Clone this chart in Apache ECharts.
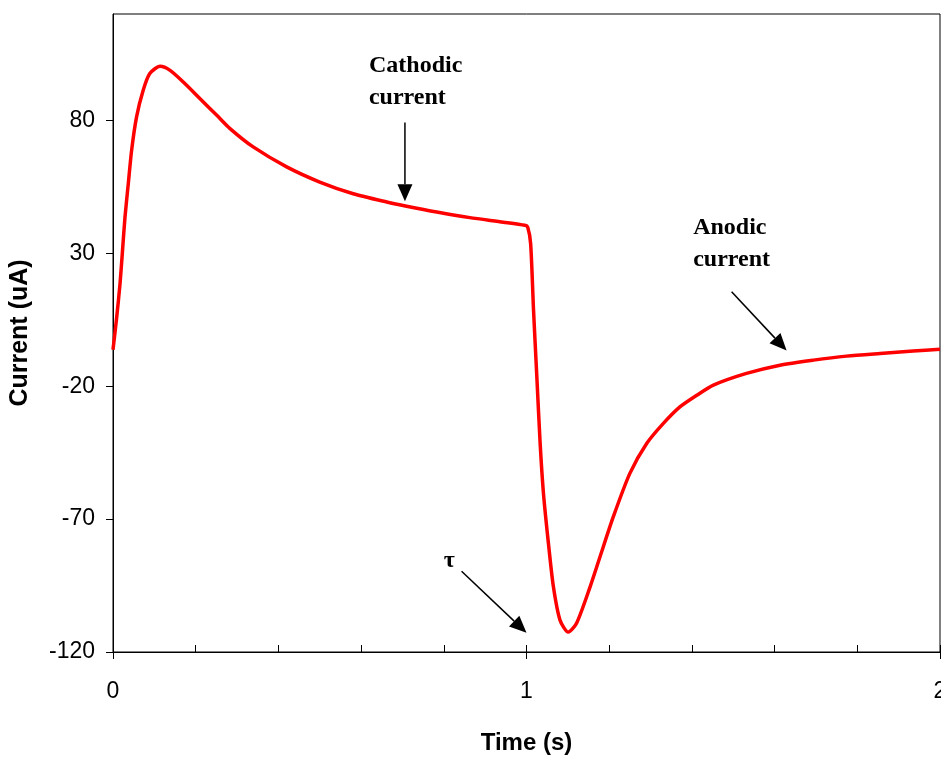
<!DOCTYPE html>
<html>
<head>
<meta charset="utf-8">
<script src="https://cdn.jsdelivr.net/npm/echarts@6/dist/echarts.min.js"></script>
<style>html,body{margin:0;padding:0;background:#fff}#chart{width:941px;height:758px}</style>
</head>
<body>
<div id="chart"></div>
<script>
// Time (s)
const timeValues = [0, 0.009, 0.017, 0.023, 0.029, 0.037, 0.045, 0.057, 0.073, 0.089, 0.114, 0.138, 0.17, 0.21, 0.251, 0.283, 0.339, 0.42, 0.5, 0.581, 0.662, 0.71, 0.783, 0.863, 0.944, 0.996, 1.003, 1.01, 1.017, 1.025, 1.033, 1.041, 1.053, 1.065, 1.081, 1.101, 1.121, 1.154, 1.178, 1.21, 1.25, 1.291, 1.331, 1.371, 1.412, 1.452, 1.532, 1.613, 1.694, 1.774, 1.855, 1.935, 2.0];
// Current (uA)
const currentValues = [-6.3, 6, 18.6, 31, 43.6, 56.2, 68.7, 81.3, 91.3, 97.6, 100.3, 98.8, 94.4, 88.2, 81.9, 76.9, 70, 62.5, 56.8, 52.4, 49.3, 47.7, 45.5, 43.4, 41.7, 40.5, 39.8, 33.6, 8.6, -16.5, -41.5, -60.3, -79.1, -95.4, -108, -112.5, -109.2, -95.4, -84.1, -69.1, -52.8, -41.5, -34, -27.8, -23.4, -19.6, -15.2, -12.1, -10.2, -8.7, -7.7, -6.8, -6.1];
const yTicks = [-120, -70, -20, 30, 80];
const xTicks = [0, 1, 2];
// annotations in data coordinates
const annotationTexts = [
  {text: 'Cathodic\ncurrent', at: [0.619, 106.5]},
  {text: 'Anodic\ncurrent', at: [1.403, 45.5]},
  {text: 'τ', at: [0.8, -79.5]}
];
const annotationArrows = [
  {from: [0.706, 79.2], to: [0.706, 49.6]},
  {from: [1.496, 15.5], to: [1.629, -6.6]},
  {from: [0.843, -89.6], to: [1.0, -112.8]}
];

const chart = echarts.init(document.getElementById('chart'), null, {renderer: 'canvas'});
const seriesData = timeValues.map((t, i) => [t, currentValues[i]]);
const labelFont = {fontFamily: '"Liberation Sans", Arial, sans-serif', fontSize: 23, color: '#000'};
const xTitleFont = {fontFamily: '"Liberation Sans", Arial, sans-serif', fontSize: 24, fontWeight: 'bold', color: '#000'};
const yTitleFont = {fontFamily: '"Liberation Sans", Arial, sans-serif', fontSize: 25, fontWeight: 'bold', color: '#000'};

chart.setOption({
  animation: false,
  backgroundColor: '#fff',
  grid: {left: 113, right: 1, top: 14, bottom: 106, show: true, borderColor: '#000', borderWidth: 1, containLabel: false, outerBoundsMode: 'none'},
  xAxis: [{
    type: 'value', min: 0, max: 2, interval: 1,
    name: 'Time (s)', nameLocation: 'middle', nameGap: 79, nameTextStyle: xTitleFont,
    axisLine: {show: true, onZero: false, lineStyle: {color: '#000', width: 1}},
    axisTick: {show: true, inside: true, length: 7, lineStyle: {color: '#000'}, customValues: xTicks},
    minorTick: {show: true, splitNumber: 5, length: 7, lineStyle: {color: '#000'}},
    axisLabel: Object.assign({margin: 28, customValues: xTicks}, labelFont),
    splitLine: {show: false}, minorSplitLine: {show: false}
  }, {
    type: 'value', min: 0, max: 2, interval: 1, position: 'bottom',
    axisLine: {show: false, onZero: false},
    axisTick: {show: true, inside: false, length: 7, lineStyle: {color: '#000'}},
    axisLabel: {show: false}, splitLine: {show: false}
  }],
  yAxis: {
    type: 'value', min: -120, max: 120, interval: 50,
    name: 'Current (uA)', nameLocation: 'middle', nameGap: 80, nameTextStyle: yTitleFont,
    axisLine: {show: true, onZero: false, lineStyle: {color: '#000', width: 1}},
    axisTick: {show: true, inside: false, length: 7, lineStyle: {color: '#000'}, customValues: yTicks},
    axisLabel: Object.assign({margin: 18, customValues: yTicks}, labelFont),
    splitLine: {show: false}
  },
  series: [{
    type: 'line', xAxisIndex: 0, yAxisIndex: 0, data: seriesData,
    showSymbol: false, smooth: 0.25,
    lineStyle: {color: '#ff0000', width: 3.5}, itemStyle: {color: '#ff0000'}
  }]
});

function px(p) { return chart.convertToPixel({xAxisIndex: 0, yAxisIndex: 0}, p); }
const graphics = [];
annotationTexts.forEach(a => {
  const p = px(a.at);
  graphics.push({type: 'text', x: p[0], y: p[1], style: {text: a.text, font: 'bold 24px "Liberation Serif", "Times New Roman", serif', fill: '#000', lineHeight: 32, textAlign: 'left', textVerticalAlign: 'top'}});
});
annotationArrows.forEach(a => {
  const s = px(a.from), e = px(a.to);
  const dx = e[0] - s[0], dy = e[1] - s[1];
  const len = Math.sqrt(dx * dx + dy * dy);
  const ux = dx / len, uy = dy / len;
  const headLen = 17, headW = 7.5;
  const bx = e[0] - ux * headLen, by = e[1] - uy * headLen;
  graphics.push({type: 'line', shape: {x1: s[0], y1: s[1], x2: bx, y2: by}, style: {stroke: '#000', lineWidth: 1.5}});
  graphics.push({type: 'polygon', shape: {points: [[e[0], e[1]], [bx - uy * headW, by + ux * headW], [bx + uy * headW, by - ux * headW]]}, style: {fill: '#000'}});
});
chart.setOption({graphic: graphics});
</script>
</body>
</html>
